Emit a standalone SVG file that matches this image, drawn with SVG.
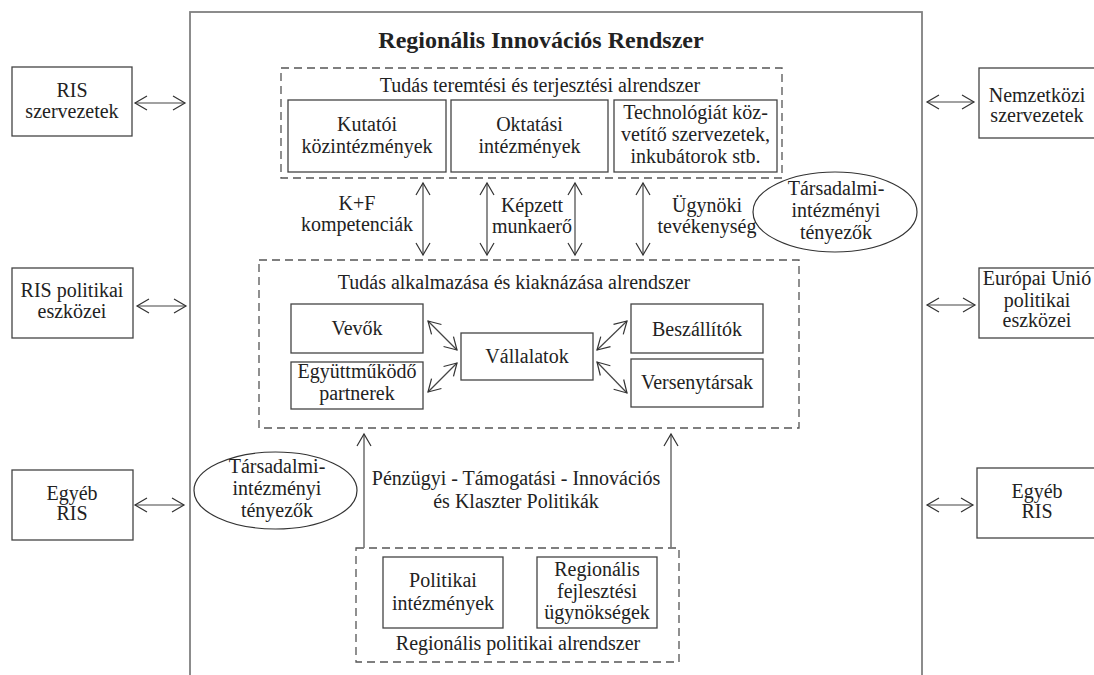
<svg xmlns="http://www.w3.org/2000/svg" width="1094" height="675" viewBox="0 0 1094 675">
<style>
text{font-family:"Liberation Serif","Times New Roman",serif;font-size:20px;fill:#222;text-anchor:middle}
.title{font-weight:bold;font-size:24px}
.box{fill:#fff;stroke:#444;stroke-width:1.3}
.dash{fill:none;stroke:#555;stroke-width:1.3;stroke-dasharray:8 5}
.main{fill:none;stroke:#808080;stroke-width:1.8}
.ell{fill:#fff;stroke:#333;stroke-width:1.2}
.arr{fill:none;stroke:#444;stroke-width:1.2;marker-start:url(#ah);marker-end:url(#ah)}
.up{fill:none;stroke:#777;stroke-width:1.6;marker-end:url(#ah)}
</style>
<defs>
<marker id="ah" viewBox="-14 -9 16 18" refX="0" refY="0" markerWidth="16" markerHeight="18" markerUnits="userSpaceOnUse" orient="auto-start-reverse">
<path d="M-12,-7 L0,0 L-12,7" fill="none" stroke="#333" stroke-width="1.2"/>
</marker>
</defs>
<rect width="1094" height="675" fill="#fff"/>

<g id="ris-main">
<rect class="main" x="190" y="12" width="732" height="700"/>
<text class="title" x="541" y="48">Regionális Innovációs Rendszer</text>
</g>

<g id="tudas-teremtesi">
<rect class="dash" x="281" y="68" width="501" height="110"/>
<text x="540" y="92">Tudás teremtési és terjesztési alrendszer</text>
</g>
<g id="kutatoi">
<rect class="box" x="288" y="100" width="158" height="72"/>
<text x="367" y="131">Kutatói</text>
<text x="367" y="153">közintézmények</text>
</g>
<g id="oktatasi">
<rect class="box" x="451" y="100" width="157" height="72"/>
<text x="529.5" y="131">Oktatási</text>
<text x="529.5" y="153">intézmények</text>
</g>
<g id="technologiat">
<rect class="box" x="614" y="100" width="163" height="72"/>
<text x="695.5" y="119">Technológiát köz-</text>
<text x="695.5" y="141">vetítő szervezetek,</text>
<text x="695.5" y="163">inkubátorok stb.</text>
</g>

<g id="tarsadalmi-1">
<ellipse class="ell" cx="835" cy="212" rx="82" ry="40"/>
<text x="836" y="195">Társadalmi-</text>
<text x="836" y="217">intézményi</text>
<text x="836" y="239">tényezők</text>
</g>

<g id="tudas-alkalmazasa">
<rect class="dash" x="259" y="260" width="540" height="168"/>
<text x="514" y="289">Tudás alkalmazása és kiaknázása alrendszer</text>
</g>
<g id="vevok">
<rect class="box" x="291" y="304" width="132" height="49"/>
<text x="357" y="335">Vevők</text>
</g>
<g id="egyuttmukodo">
<rect class="box" x="291" y="362" width="132" height="47"/>
<text x="357" y="378">Együttműködő</text>
<text x="357" y="400">partnerek</text>
</g>
<g id="vallalatok">
<rect class="box" x="461" y="333" width="132" height="47"/>
<text x="527" y="363">Vállalatok</text>
</g>
<g id="beszallitok">
<rect class="box" x="631" y="304" width="132" height="49"/>
<text x="697" y="336">Beszállítók</text>
</g>
<g id="versenytarsak">
<rect class="box" x="631" y="359" width="132" height="48"/>
<text x="697" y="389">Versenytársak</text>
</g>

<g id="tarsadalmi-2">
<ellipse class="ell" cx="275.5" cy="490.5" rx="81.5" ry="38.5"/>
<text x="277" y="473">Társadalmi-</text>
<text x="277" y="495">intézményi</text>
<text x="277" y="517">tényezők</text>
</g>

<g id="regionalis-politikai">
<rect class="dash" x="356" y="548" width="323" height="114"/>
<text x="518" y="650">Regionális politikai alrendszer</text>
</g>
<g id="politikai-intezmenyek">
<rect class="box" x="383" y="557" width="120" height="71"/>
<text x="443" y="587">Politikai</text>
<text x="443" y="610">intézmények</text>
</g>
<g id="fejlesztesi">
<rect class="box" x="537" y="557" width="120" height="71"/>
<text x="597" y="576">Regionális</text>
<text x="597" y="598">fejlesztési</text>
<text x="597" y="619">ügynökségek</text>
</g>

<g id="ris-szervezetek">
<rect class="box" x="12" y="67" width="120" height="69"/>
<text x="72" y="97">RIS</text>
<text x="72" y="118">szervezetek</text>
</g>
<g id="ris-politikai">
<rect class="box" x="12" y="268" width="121" height="70"/>
<text x="72" y="297">RIS politikai</text>
<text x="72" y="318">eszközei</text>
</g>
<g id="egyeb-ris-bal">
<rect class="box" x="12" y="470" width="121" height="70"/>
<text x="72" y="500">Egyéb</text>
<text x="72" y="520">RIS</text>
</g>
<g id="nemzetkozi">
<rect class="box" x="979" y="68" width="130" height="70"/>
<text x="1037" y="102">Nemzetközi</text>
<text x="1037" y="122">szervezetek</text>
</g>
<g id="eu">
<rect class="box" x="979" y="268" width="130" height="70"/>
<text x="1037" y="285">Európai Unió</text>
<text x="1037" y="307">politikai</text>
<text x="1037" y="327">eszközei</text>
</g>
<g id="egyeb-ris-jobb">
<rect class="box" x="977" y="468" width="130" height="70"/>
<text x="1037" y="498">Egyéb</text>
<text x="1037" y="518">RIS</text>
</g>

<g id="connectors">
<line class="arr" x1="135" y1="103" x2="185" y2="103"/>
<line class="arr" x1="137" y1="306" x2="186" y2="306"/>
<line class="arr" x1="135" y1="505" x2="184" y2="505"/>
<line class="arr" x1="927" y1="102" x2="974" y2="102"/>
<line class="arr" x1="927" y1="305" x2="975" y2="305"/>
<line class="arr" x1="927" y1="505" x2="973" y2="505"/>
<line class="arr" x1="423" y1="183" x2="423" y2="255"/>
<line class="arr" x1="487" y1="183" x2="487" y2="255"/>
<line class="arr" x1="575" y1="183" x2="575" y2="255"/>
<line class="arr" x1="643" y1="183" x2="643" y2="255"/>
<line class="arr" x1="428" y1="321" x2="457" y2="350"/>
<line class="arr" x1="428" y1="392" x2="457" y2="363"/>
<line class="arr" x1="597" y1="350" x2="627" y2="321"/>
<line class="arr" x1="597" y1="362" x2="627" y2="393"/>
<line class="up" x1="364" y1="548" x2="364" y2="434"/>
<line class="up" x1="671" y1="548" x2="671" y2="434"/>
<text x="357" y="210">K+F</text>
<text x="357" y="231">kompetenciák</text>
<text x="532" y="212">Képzett</text>
<text x="532" y="233">munkaerő</text>
<text x="707" y="212">Ügynöki</text>
<text x="707" y="233">tevékenység</text>
<text x="516" y="485">Pénzügyi - Támogatási - Innovációs</text>
<text x="516" y="508">és Klaszter Politikák</text>
</g>
</svg>
